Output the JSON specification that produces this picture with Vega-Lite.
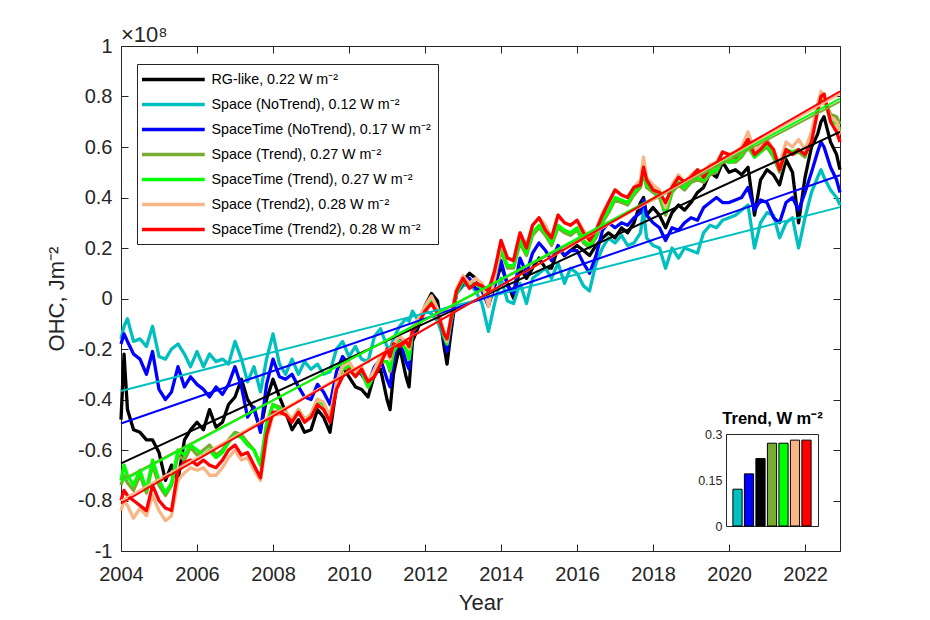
{
  "$schema": "https://vega.github.io/schema/vega-lite/v6.json",
  "width": 719,
  "height": 505,
  "autosize": "none",
  "padding": {"left": 121, "top": 46, "right": 90, "bottom": 69},
  "background": "white",
  "title": {"text": "×10⁸", "anchor": "start", "frame": "group", "fontSize": 22, "fontWeight": "normal", "font": "Liberation Sans", "color": "#262626", "offset": -11},
  "config": {
    "font": "Liberation Sans",
    "view": {"stroke": "#262626", "strokeWidth": 1},
    "axis": {
      "grid": false, "domain": false, "zindex": 1,
      "labelFont": "Liberation Sans", "labelFontSize": 20, "labelColor": "#262626",
      "titleFont": "Liberation Sans", "titleFontSize": 22, "titleFontWeight": "normal", "titleColor": "#262626",
      "tickColor": "#262626", "tickSize": -7, "tickWidth": 1, "labelFlush": false, "labelOverlap": false
    }
  },
  "datasets": {
    "ohc": [
      {"t": 2004.00, "rg": -0.48, "sn": -0.16, "stn": -0.18, "st": -0.74, "stt": -0.72, "s2": -0.84, "st2": -0.80},
      {"t": 2004.08, "rg": -0.22, "sn": -0.11, "stn": -0.14, "st": -0.70, "stt": -0.66, "s2": -0.80, "st2": -0.76},
      {"t": 2004.17, "rg": -0.44, "sn": -0.08, "stn": -0.17, "st": -0.73, "stt": -0.70, "s2": -0.82, "st2": -0.78},
      {"t": 2004.33, "rg": -0.52, "sn": -0.17, "stn": -0.22, "st": -0.76, "stt": -0.74, "s2": -0.87, "st2": -0.80},
      {"t": 2004.50, "rg": -0.53, "sn": -0.16, "stn": -0.24, "st": -0.70, "stt": -0.68, "s2": -0.83, "st2": -0.82},
      {"t": 2004.67, "rg": -0.56, "sn": -0.19, "stn": -0.30, "st": -0.77, "stt": -0.76, "s2": -0.86, "st2": -0.84},
      {"t": 2004.83, "rg": -0.56, "sn": -0.11, "stn": -0.21, "st": -0.66, "stt": -0.64, "s2": -0.78, "st2": -0.74},
      {"t": 2005.00, "rg": -0.61, "sn": -0.23, "stn": -0.36, "st": -0.74, "stt": -0.72, "s2": -0.84, "st2": -0.80},
      {"t": 2005.17, "rg": -0.72, "sn": -0.24, "stn": -0.40, "st": -0.78, "stt": -0.77, "s2": -0.88, "st2": -0.83},
      {"t": 2005.33, "rg": -0.66, "sn": -0.20, "stn": -0.37, "st": -0.74, "stt": -0.73, "s2": -0.86, "st2": -0.84},
      {"t": 2005.50, "rg": -0.72, "sn": -0.18, "stn": -0.27, "st": -0.62, "stt": -0.60, "s2": -0.72, "st2": -0.68},
      {"t": 2005.67, "rg": -0.56, "sn": -0.22, "stn": -0.35, "st": -0.64, "stt": -0.62, "s2": -0.69, "st2": -0.65},
      {"t": 2005.83, "rg": -0.52, "sn": -0.27, "stn": -0.31, "st": -0.59, "stt": -0.58, "s2": -0.67, "st2": -0.64},
      {"t": 2006.00, "rg": -0.49, "sn": -0.21, "stn": -0.34, "st": -0.62, "stt": -0.60, "s2": -0.68, "st2": -0.66},
      {"t": 2006.17, "rg": -0.52, "sn": -0.27, "stn": -0.36, "st": -0.60, "stt": -0.62, "s2": -0.67, "st2": -0.64},
      {"t": 2006.33, "rg": -0.44, "sn": -0.22, "stn": -0.39, "st": -0.58, "stt": -0.60, "s2": -0.70, "st2": -0.66},
      {"t": 2006.50, "rg": -0.51, "sn": -0.25, "stn": -0.35, "st": -0.62, "stt": -0.63, "s2": -0.70, "st2": -0.67},
      {"t": 2006.67, "rg": -0.49, "sn": -0.24, "stn": -0.38, "st": -0.60, "stt": -0.61, "s2": -0.67, "st2": -0.64},
      {"t": 2006.83, "rg": -0.42, "sn": -0.26, "stn": -0.34, "st": -0.56, "stt": -0.57, "s2": -0.63, "st2": -0.60},
      {"t": 2007.00, "rg": -0.39, "sn": -0.17, "stn": -0.27, "st": -0.53, "stt": -0.54, "s2": -0.60, "st2": -0.58},
      {"t": 2007.17, "rg": -0.32, "sn": -0.24, "stn": -0.35, "st": -0.54, "stt": -0.55, "s2": -0.64, "st2": -0.62},
      {"t": 2007.33, "rg": -0.40, "sn": -0.33, "stn": -0.47, "st": -0.57, "stt": -0.58, "s2": -0.63, "st2": -0.61},
      {"t": 2007.50, "rg": -0.44, "sn": -0.27, "stn": -0.43, "st": -0.60, "stt": -0.60, "s2": -0.68, "st2": -0.66},
      {"t": 2007.67, "rg": -0.52, "sn": -0.37, "stn": -0.53, "st": -0.66, "stt": -0.66, "s2": -0.72, "st2": -0.71},
      {"t": 2007.83, "rg": -0.40, "sn": -0.24, "stn": -0.34, "st": -0.50, "stt": -0.50, "s2": -0.56, "st2": -0.54},
      {"t": 2008.00, "rg": -0.32, "sn": -0.14, "stn": -0.24, "st": -0.42, "stt": -0.42, "s2": -0.46, "st2": -0.45},
      {"t": 2008.17, "rg": -0.39, "sn": -0.26, "stn": -0.31, "st": -0.43, "stt": -0.44, "s2": -0.46, "st2": -0.45},
      {"t": 2008.33, "rg": -0.45, "sn": -0.30, "stn": -0.32, "st": -0.45, "stt": -0.45, "s2": -0.45, "st2": -0.46},
      {"t": 2008.50, "rg": -0.52, "sn": -0.24, "stn": -0.30, "st": -0.48, "stt": -0.48, "s2": -0.48, "st2": -0.49},
      {"t": 2008.67, "rg": -0.48, "sn": -0.30, "stn": -0.35, "st": -0.44, "stt": -0.44, "s2": -0.44, "st2": -0.45},
      {"t": 2008.83, "rg": -0.53, "sn": -0.25, "stn": -0.39, "st": -0.48, "stt": -0.48, "s2": -0.48, "st2": -0.49},
      {"t": 2009.00, "rg": -0.52, "sn": -0.28, "stn": -0.40, "st": -0.46, "stt": -0.46, "s2": -0.46, "st2": -0.47},
      {"t": 2009.17, "rg": -0.44, "sn": -0.26, "stn": -0.34, "st": -0.40, "stt": -0.40, "s2": -0.40, "st2": -0.42},
      {"t": 2009.33, "rg": -0.47, "sn": -0.30, "stn": -0.37, "st": -0.42, "stt": -0.42, "s2": -0.41, "st2": -0.44},
      {"t": 2009.50, "rg": -0.53, "sn": -0.29, "stn": -0.42, "st": -0.47, "stt": -0.47, "s2": -0.47, "st2": -0.49},
      {"t": 2009.67, "rg": -0.35, "sn": -0.20, "stn": -0.29, "st": -0.34, "stt": -0.34, "s2": -0.33, "st2": -0.36},
      {"t": 2009.83, "rg": -0.27, "sn": -0.17, "stn": -0.23, "st": -0.28, "stt": -0.28, "s2": -0.27, "st2": -0.31},
      {"t": 2010.00, "rg": -0.31, "sn": -0.23, "stn": -0.26, "st": -0.27, "stt": -0.27, "s2": -0.25, "st2": -0.28},
      {"t": 2010.17, "rg": -0.35, "sn": -0.19, "stn": -0.29, "st": -0.30, "stt": -0.30, "s2": -0.29, "st2": -0.31},
      {"t": 2010.33, "rg": -0.36, "sn": -0.24, "stn": -0.30, "st": -0.29, "stt": -0.29, "s2": -0.27, "st2": -0.28},
      {"t": 2010.50, "rg": -0.39, "sn": -0.25, "stn": -0.34, "st": -0.35, "stt": -0.35, "s2": -0.33, "st2": -0.33},
      {"t": 2010.67, "rg": -0.30, "sn": -0.15, "stn": -0.27, "st": -0.30, "stt": -0.30, "s2": -0.28, "st2": -0.31},
      {"t": 2010.83, "rg": -0.28, "sn": -0.12, "stn": -0.24, "st": -0.25, "stt": -0.25, "s2": -0.23, "st2": -0.26},
      {"t": 2011.00, "rg": -0.40, "sn": -0.19, "stn": -0.32, "st": -0.25, "stt": -0.25, "s2": -0.22, "st2": -0.20},
      {"t": 2011.08, "rg": -0.44, "sn": -0.20, "stn": -0.35, "st": -0.29, "stt": -0.28, "s2": -0.24, "st2": -0.23},
      {"t": 2011.17, "rg": -0.30, "sn": -0.16, "stn": -0.24, "st": -0.21, "stt": -0.21, "s2": -0.18, "st2": -0.18},
      {"t": 2011.33, "rg": -0.19, "sn": -0.11, "stn": -0.16, "st": -0.17, "stt": -0.17, "s2": -0.15, "st2": -0.19},
      {"t": 2011.50, "rg": -0.31, "sn": -0.08, "stn": -0.25, "st": -0.20, "stt": -0.20, "s2": -0.17, "st2": -0.17},
      {"t": 2011.58, "rg": -0.35, "sn": -0.09, "stn": -0.28, "st": -0.24, "stt": -0.24, "s2": -0.20, "st2": -0.19},
      {"t": 2011.67, "rg": -0.17, "sn": -0.05, "stn": -0.14, "st": -0.13, "stt": -0.13, "s2": -0.11, "st2": -0.13},
      {"t": 2011.83, "rg": -0.11, "sn": -0.09, "stn": -0.10, "st": -0.10, "stt": -0.10, "s2": -0.08, "st2": -0.10},
      {"t": 2012.00, "rg": -0.03, "sn": -0.05, "stn": -0.04, "st": -0.04, "stt": -0.04, "s2": -0.03, "st2": -0.05},
      {"t": 2012.17, "rg": 0.02, "sn": -0.06, "stn": 0.00, "st": -0.01, "stt": -0.01, "s2": 0.01, "st2": -0.02},
      {"t": 2012.33, "rg": -0.01, "sn": -0.09, "stn": -0.04, "st": -0.05, "stt": -0.05, "s2": -0.04, "st2": -0.06},
      {"t": 2012.50, "rg": -0.19, "sn": -0.16, "stn": -0.16, "st": -0.15, "stt": -0.15, "s2": -0.13, "st2": -0.14},
      {"t": 2012.58, "rg": -0.26, "sn": -0.18, "stn": -0.21, "st": -0.18, "stt": -0.18, "s2": -0.17, "st2": -0.16},
      {"t": 2012.67, "rg": -0.15, "sn": -0.10, "stn": -0.12, "st": -0.10, "stt": -0.10, "s2": -0.08, "st2": -0.09},
      {"t": 2012.83, "rg": 0.03, "sn": 0.02, "stn": 0.02, "st": 0.02, "stt": 0.02, "s2": 0.04, "st2": 0.03},
      {"t": 2013.00, "rg": 0.07, "sn": 0.05, "stn": 0.06, "st": 0.07, "stt": 0.07, "s2": 0.09, "st2": 0.08},
      {"t": 2013.17, "rg": 0.10, "sn": 0.06, "stn": 0.08, "st": 0.05, "stt": 0.05, "s2": 0.06, "st2": 0.04},
      {"t": 2013.33, "rg": 0.08, "sn": 0.03, "stn": 0.04, "st": 0.06, "stt": 0.06, "s2": 0.08, "st2": 0.06},
      {"t": 2013.50, "rg": 0.05, "sn": -0.02, "stn": 0.03, "st": 0.04, "stt": 0.04, "s2": 0.06, "st2": 0.05},
      {"t": 2013.67, "rg": -0.02, "sn": -0.13, "stn": -0.03, "st": 0.00, "stt": 0.01, "s2": -0.03, "st2": 0.03},
      {"t": 2013.83, "rg": 0.05, "sn": -0.02, "stn": 0.05, "st": 0.08, "stt": 0.09, "s2": 0.08, "st2": 0.11},
      {"t": 2014.00, "rg": 0.13, "sn": 0.08, "stn": 0.15, "st": 0.19, "stt": 0.20, "s2": 0.22, "st2": 0.23},
      {"t": 2014.17, "rg": 0.06, "sn": -0.01, "stn": 0.05, "st": 0.12, "stt": 0.13, "s2": 0.16, "st2": 0.16},
      {"t": 2014.33, "rg": 0.00, "sn": -0.02, "stn": 0.02, "st": 0.12, "stt": 0.13, "s2": 0.15, "st2": 0.15},
      {"t": 2014.50, "rg": 0.12, "sn": 0.06, "stn": 0.16, "st": 0.22, "stt": 0.23, "s2": 0.26, "st2": 0.26},
      {"t": 2014.67, "rg": 0.08, "sn": -0.02, "stn": 0.10, "st": 0.17, "stt": 0.18, "s2": 0.21, "st2": 0.20},
      {"t": 2014.83, "rg": 0.12, "sn": 0.08, "stn": 0.18, "st": 0.25, "stt": 0.26, "s2": 0.29, "st2": 0.29},
      {"t": 2015.00, "rg": 0.16, "sn": 0.10, "stn": 0.22, "st": 0.28, "stt": 0.29, "s2": 0.32, "st2": 0.32},
      {"t": 2015.17, "rg": 0.12, "sn": 0.12, "stn": 0.19, "st": 0.25, "stt": 0.26, "s2": 0.29, "st2": 0.27},
      {"t": 2015.33, "rg": 0.12, "sn": 0.08, "stn": 0.15, "st": 0.21, "stt": 0.22, "s2": 0.24, "st2": 0.24},
      {"t": 2015.50, "rg": 0.20, "sn": 0.14, "stn": 0.21, "st": 0.28, "stt": 0.29, "s2": 0.33, "st2": 0.33},
      {"t": 2015.67, "rg": 0.17, "sn": 0.06, "stn": 0.17, "st": 0.26, "stt": 0.27, "s2": 0.30, "st2": 0.30},
      {"t": 2015.83, "rg": 0.19, "sn": 0.12, "stn": 0.19, "st": 0.25, "stt": 0.26, "s2": 0.29, "st2": 0.29},
      {"t": 2016.00, "rg": 0.21, "sn": 0.10, "stn": 0.19, "st": 0.27, "stt": 0.28, "s2": 0.31, "st2": 0.31},
      {"t": 2016.17, "rg": 0.19, "sn": 0.05, "stn": 0.14, "st": 0.22, "stt": 0.23, "s2": 0.27, "st2": 0.26},
      {"t": 2016.33, "rg": 0.17, "sn": 0.03, "stn": 0.10, "st": 0.20, "stt": 0.21, "s2": 0.24, "st2": 0.23},
      {"t": 2016.50, "rg": 0.21, "sn": 0.14, "stn": 0.17, "st": 0.24, "stt": 0.25, "s2": 0.27, "st2": 0.27},
      {"t": 2016.67, "rg": 0.24, "sn": 0.20, "stn": 0.27, "st": 0.30, "stt": 0.31, "s2": 0.34, "st2": 0.33},
      {"t": 2016.83, "rg": 0.26, "sn": 0.24, "stn": 0.30, "st": 0.34, "stt": 0.35, "s2": 0.38, "st2": 0.38},
      {"t": 2017.00, "rg": 0.24, "sn": 0.22, "stn": 0.28, "st": 0.39, "stt": 0.40, "s2": 0.43, "st2": 0.43},
      {"t": 2017.17, "rg": 0.28, "sn": 0.25, "stn": 0.30, "st": 0.38, "stt": 0.39, "s2": 0.41, "st2": 0.41},
      {"t": 2017.33, "rg": 0.26, "sn": 0.21, "stn": 0.29, "st": 0.37, "stt": 0.38, "s2": 0.40, "st2": 0.40},
      {"t": 2017.50, "rg": 0.30, "sn": 0.22, "stn": 0.32, "st": 0.41, "stt": 0.42, "s2": 0.44, "st2": 0.44},
      {"t": 2017.67, "rg": 0.38, "sn": 0.26, "stn": 0.34, "st": 0.44, "stt": 0.45, "s2": 0.47, "st2": 0.45},
      {"t": 2017.75, "rg": 0.40, "sn": 0.35, "stn": 0.39, "st": 0.50, "stt": 0.51, "s2": 0.56, "st2": 0.52},
      {"t": 2017.83, "rg": 0.33, "sn": 0.24, "stn": 0.33, "st": 0.44, "stt": 0.45, "s2": 0.48, "st2": 0.47},
      {"t": 2018.00, "rg": 0.36, "sn": 0.21, "stn": 0.30, "st": 0.42, "stt": 0.43, "s2": 0.45, "st2": 0.43},
      {"t": 2018.17, "rg": 0.33, "sn": 0.20, "stn": 0.28, "st": 0.40, "stt": 0.42, "s2": 0.43, "st2": 0.42},
      {"t": 2018.33, "rg": 0.28, "sn": 0.12, "stn": 0.23, "st": 0.33, "stt": 0.34, "s2": 0.36, "st2": 0.38},
      {"t": 2018.50, "rg": 0.34, "sn": 0.20, "stn": 0.28, "st": 0.42, "stt": 0.43, "s2": 0.45, "st2": 0.44},
      {"t": 2018.67, "rg": 0.37, "sn": 0.16, "stn": 0.27, "st": 0.45, "stt": 0.46, "s2": 0.49, "st2": 0.48},
      {"t": 2018.83, "rg": 0.35, "sn": 0.20, "stn": 0.30, "st": 0.43, "stt": 0.44, "s2": 0.46, "st2": 0.46},
      {"t": 2019.00, "rg": 0.38, "sn": 0.19, "stn": 0.32, "st": 0.46, "stt": 0.47, "s2": 0.49, "st2": 0.48},
      {"t": 2019.17, "rg": 0.42, "sn": 0.18, "stn": 0.31, "st": 0.47, "stt": 0.48, "s2": 0.51, "st2": 0.51},
      {"t": 2019.33, "rg": 0.44, "sn": 0.26, "stn": 0.36, "st": 0.46, "stt": 0.47, "s2": 0.50, "st2": 0.48},
      {"t": 2019.50, "rg": 0.50, "sn": 0.29, "stn": 0.38, "st": 0.49, "stt": 0.50, "s2": 0.53, "st2": 0.52},
      {"t": 2019.67, "rg": 0.48, "sn": 0.28, "stn": 0.40, "st": 0.50, "stt": 0.51, "s2": 0.54, "st2": 0.53},
      {"t": 2019.83, "rg": 0.54, "sn": 0.31, "stn": 0.38, "st": 0.55, "stt": 0.55, "s2": 0.58, "st2": 0.58},
      {"t": 2020.00, "rg": 0.50, "sn": 0.32, "stn": 0.38, "st": 0.54, "stt": 0.54, "s2": 0.57, "st2": 0.57},
      {"t": 2020.17, "rg": 0.51, "sn": 0.33, "stn": 0.39, "st": 0.54, "stt": 0.55, "s2": 0.58, "st2": 0.56},
      {"t": 2020.33, "rg": 0.49, "sn": 0.35, "stn": 0.40, "st": 0.56, "stt": 0.57, "s2": 0.60, "st2": 0.59},
      {"t": 2020.50, "rg": 0.52, "sn": 0.37, "stn": 0.44, "st": 0.60, "stt": 0.61, "s2": 0.66, "st2": 0.63},
      {"t": 2020.67, "rg": 0.33, "sn": 0.20, "stn": 0.35, "st": 0.56, "stt": 0.56, "s2": 0.58, "st2": 0.57},
      {"t": 2020.83, "rg": 0.47, "sn": 0.30, "stn": 0.39, "st": 0.58, "stt": 0.58, "s2": 0.61, "st2": 0.59},
      {"t": 2021.00, "rg": 0.51, "sn": 0.34, "stn": 0.38, "st": 0.60, "stt": 0.61, "s2": 0.63, "st2": 0.62},
      {"t": 2021.17, "rg": 0.49, "sn": 0.33, "stn": 0.32, "st": 0.56, "stt": 0.57, "s2": 0.59, "st2": 0.59},
      {"t": 2021.33, "rg": 0.45, "sn": 0.24, "stn": 0.30, "st": 0.50, "stt": 0.51, "s2": 0.53, "st2": 0.51},
      {"t": 2021.50, "rg": 0.55, "sn": 0.30, "stn": 0.38, "st": 0.58, "stt": 0.59, "s2": 0.62, "st2": 0.59},
      {"t": 2021.67, "rg": 0.50, "sn": 0.32, "stn": 0.40, "st": 0.57, "stt": 0.58, "s2": 0.60, "st2": 0.57},
      {"t": 2021.83, "rg": 0.30, "sn": 0.20, "stn": 0.35, "st": 0.58, "stt": 0.59, "s2": 0.63, "st2": 0.59},
      {"t": 2022.00, "rg": 0.48, "sn": 0.32, "stn": 0.42, "st": 0.56, "stt": 0.57, "s2": 0.59, "st2": 0.57},
      {"t": 2022.17, "rg": 0.60, "sn": 0.42, "stn": 0.50, "st": 0.64, "stt": 0.64, "s2": 0.66, "st2": 0.62},
      {"t": 2022.33, "rg": 0.65, "sn": 0.48, "stn": 0.58, "st": 0.76, "stt": 0.76, "s2": 0.77, "st2": 0.74},
      {"t": 2022.42, "rg": 0.70, "sn": 0.51, "stn": 0.62, "st": 0.81, "stt": 0.80, "s2": 0.82, "st2": 0.80},
      {"t": 2022.50, "rg": 0.72, "sn": 0.48, "stn": 0.60, "st": 0.79, "stt": 0.78, "s2": 0.79, "st2": 0.81},
      {"t": 2022.67, "rg": 0.62, "sn": 0.43, "stn": 0.52, "st": 0.73, "stt": 0.71, "s2": 0.72, "st2": 0.70},
      {"t": 2022.83, "rg": 0.57, "sn": 0.40, "stn": 0.47, "st": 0.72, "stt": 0.69, "s2": 0.70, "st2": 0.66},
      {"t": 2022.92, "rg": 0.51, "sn": 0.37, "stn": 0.42, "st": 0.69, "stt": 0.67, "s2": 0.65, "st2": 0.62}
    ],
    "trend": [
      {"s": "rg", "t": 2004, "v": -0.653}, {"s": "rg", "t": 2022.92, "v": 0.66},
      {"s": "sn", "t": 2004, "v": -0.366}, {"s": "sn", "t": 2022.92, "v": 0.362},
      {"s": "stn", "t": 2004, "v": -0.495}, {"s": "stn", "t": 2022.92, "v": 0.488},
      {"s": "st", "t": 2004, "v": -0.72}, {"s": "st", "t": 2022.92, "v": 0.78},
      {"s": "stt", "t": 2004, "v": -0.725}, {"s": "stt", "t": 2022.92, "v": 0.792},
      {"s": "s2", "t": 2004, "v": -0.80}, {"s": "s2", "t": 2022.92, "v": 0.81},
      {"s": "st2", "t": 2004, "v": -0.811}, {"s": "st2", "t": 2022.92, "v": 0.82}
    ],
    "bars": [
      {"s": "sn", "trend": 0.12},
      {"s": "stn", "trend": 0.17},
      {"s": "rg", "trend": 0.22},
      {"s": "st", "trend": 0.27},
      {"s": "stt", "trend": 0.27},
      {"s": "s2", "trend": 0.28},
      {"s": "st2", "trend": 0.28}
    ]
  },
  "layer": [
    {
      "layer": [
        {
          "data": {"name": "ohc"},
          "transform": [{"fold": ["rg", "sn", "stn", "st", "stt", "s2", "st2"], "as": ["s", "v"]}],
          "mark": {"type": "line", "strokeWidth": 3.3, "strokeJoin": "round"},
          "encoding": {
            "x": {
              "field": "t", "type": "quantitative",
              "scale": {"domain": [2004, 2022.92], "nice": false, "zero": false},
              "axis": {"orient": "bottom", "values": [2004, 2006, 2008, 2010, 2012, 2014, 2016, 2018, 2020, 2022], "format": "d", "title": "Year", "labelPadding": 20.5, "titlePadding": 8}
            },
            "y": {
              "field": "v", "type": "quantitative",
              "scale": {"domain": [-1, 1], "nice": false, "zero": false},
              "axis": {"orient": "left", "values": [-1, -0.8, -0.6, -0.4, -0.2, 0, 0.2, 0.4, 0.6, 0.8, 1], "labelExpr": "'' + datum.value", "title": "OHC, Jm⁻²", "labelPadding": 16, "titlePadding": 9}
            },
            "color": {
              "field": "s", "type": "nominal",
              "scale": {
                "domain": ["rg", "sn", "stn", "st", "stt", "s2", "st2"],
                "range": ["#000000", "#00BFBF", "#0000FF", "#77AC30", "#00FF00", "#F9B586", "#FF0000"]
              },
              "legend": {
                "title": null, "orient": "none", "legendX": 16, "legendY": 18,
                "symbolType": "M-1.5,0H7.46", "symbolSize": 196, "symbolStrokeWidth": 3.5,
                "labelFont": "Liberation Sans", "labelFontSize": 14.3, "labelColor": "#000000", "labelLimit": 400,
                "labelOffset": 50, "rowPadding": 8, "padding": 6.5,
                "strokeColor": "#262626", "fillColor": "white",
                "labelExpr": "datum.label == 'rg' ? 'RG-like, 0.22 W m⁻²' : datum.label == 'sn' ? 'Space (NoTrend), 0.12 W m⁻²' : datum.label == 'stn' ? 'SpaceTime (NoTrend), 0.17 W m⁻²' : datum.label == 'st' ? 'Space (Trend), 0.27 W m⁻²' : datum.label == 'stt' ? 'SpaceTime (Trend), 0.27 W m⁻²' : datum.label == 's2' ? 'Space (Trend2), 0.28 W m⁻²' : 'SpaceTime (Trend2), 0.28 W m⁻²'"
              }
            }
          }
        },
        {
          "data": {"name": "trend"},
          "mark": {"type": "line", "strokeWidth": 2},
          "encoding": {
            "x": {
              "field": "t", "type": "quantitative",
              "scale": {"domain": [2004, 2022.92], "nice": false, "zero": false},
              "axis": {"orient": "top", "values": [2004, 2006, 2008, 2010, 2012, 2014, 2016, 2018, 2020, 2022], "labels": false, "title": null}
            },
            "y": {
              "field": "v", "type": "quantitative",
              "scale": {"domain": [-1, 1], "nice": false, "zero": false},
              "axis": {"orient": "right", "values": [-1, -0.8, -0.6, -0.4, -0.2, 0, 0.2, 0.4, 0.6, 0.8, 1], "labels": false, "title": null}
            },
            "color": {"field": "s", "type": "nominal", "legend": null}
          }
        }
      ],
      "resolve": {"axis": {"x": "independent", "y": "independent"}}
    },
    {
      "data": {"name": "bars"},
      "layer": [
        {
          "mark": {"type": "bar", "stroke": "#000000", "strokeWidth": 1},
          "encoding": {
            "x": {
              "field": "s", "type": "nominal", "sort": ["sn", "stn", "rg", "st", "stt", "s2", "st2"],
              "scale": {"range": [605, 697], "paddingInner": 0.2, "paddingOuter": 0.6},
              "axis": {"orient": "bottom", "offset": -25, "labels": false, "ticks": false, "title": null, "domain": true, "domainColor": "#262626"}
            },
            "y": {
              "field": "trend", "type": "quantitative",
              "scale": {"domain": [0, 0.3], "range": [480, 388], "nice": false},
              "axis": {"orient": "left", "offset": -605, "values": [0, 0.15, 0.3], "labelExpr": "'' + datum.value", "labelFontSize": 12.5, "labelPadding": 4, "ticks": false, "title": null, "domain": true, "domainColor": "#262626"}
            },
            "color": {"field": "s", "type": "nominal", "legend": null}
          }
        },
        {
          "mark": {"type": "bar", "opacity": 0},
          "encoding": {
            "x": {
              "field": "s", "type": "nominal", "sort": ["sn", "stn", "rg", "st", "stt", "s2", "st2"],
              "scale": {"range": [605, 697], "paddingInner": 0.2, "paddingOuter": 0.6},
              "axis": {"orient": "top", "offset": -388, "labels": false, "ticks": false, "domain": true, "domainColor": "#262626", "title": "Trend, W m⁻²", "titleFontWeight": "bold", "titleFontSize": 16.5, "titleColor": "#000000", "titlePadding": 8}
            },
            "y": {
              "field": "trend", "type": "quantitative",
              "scale": {"domain": [0, 0.3], "range": [480, 388], "nice": false},
              "axis": {"orient": "right", "offset": -22, "labels": false, "ticks": false, "title": null, "domain": true, "domainColor": "#262626"}
            }
          }
        }
      ],
      "resolve": {"axis": {"x": "independent", "y": "independent"}}
    }
  ],
  "resolve": {"scale": {"x": "independent", "y": "independent"}}
}
